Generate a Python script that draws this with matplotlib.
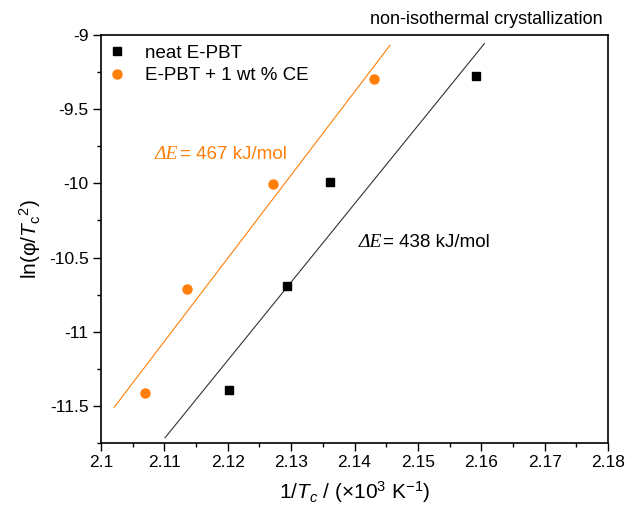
import matplotlib.pyplot as plt
import numpy as np

plt.rcParams['font.family'] = 'Liberation Sans'
plt.rcParams['mathtext.fontset'] = 'custom'
plt.rcParams['mathtext.rm'] = 'Liberation Sans'
plt.rcParams['mathtext.it'] = 'Liberation Sans:italic'

# 1/Tc (x10^3 1/K) and ln(phi/Tc^2) for both samples
x_neat = [2.1202, 2.1293, 2.1362, 2.1591]
y_neat = [-11.394, -10.692, -9.993, -9.276]
x_ce = [2.1069, 2.1136, 2.1271, 2.1431]
y_ce = [-11.41, -10.71, -10.002, -9.296]

# x span of each fitted line
fit_neat_range = [2.1101, 2.1605]
fit_ce_range = [2.1021, 2.1456]

dE_neat = 438
dE_ce = 467

xticks = [2.1, 2.11, 2.12, 2.13, 2.14, 2.15, 2.16, 2.17, 2.18]
yticks = [-11.5, -11, -10.5, -10, -9.5, -9]

orange = '#ff7f0a'

fig = plt.figure(figsize=(6.25, 5.12), dpi=100)
ax = fig.add_axes([0.1616, 0.1348, 0.8112, 0.7968])

ax.plot(x_neat, y_neat, 's', color='black', ms=6, label='neat E-PBT', zorder=3)
ax.plot(x_ce, y_ce, 'o', color=orange, ms=6.5, label='E-PBT + 1 wt % CE', zorder=3)

p = np.polyfit(x_neat, y_neat, 1)
xx = np.array(fit_neat_range)
ax.plot(xx, np.polyval(p, xx), color='#333333', lw=0.8)
p = np.polyfit(x_ce, y_ce, 1)
xx = np.array(fit_ce_range)
ax.plot(xx, np.polyval(p, xx), color=orange, lw=0.8)

ax.set_xlim(2.1, 2.18)
ax.set_ylim(-11.75, -9)
ax.set_xticks(xticks)
ax.set_xticklabels([f'{v:g}' for v in xticks])
ax.set_yticks(yticks)
ax.set_yticklabels([f'{v:g}' for v in yticks])
ax.set_xticks(np.arange(2.105, 2.18, 0.01), minor=True)
ax.set_yticks(np.arange(-11.75, -9, 0.5), minor=True)
ax.tick_params(which='major', direction='out', length=6, width=1, labelsize=12.5, pad=3)
ax.tick_params(which='minor', direction='out', length=3, width=1)
for s in ax.spines.values():
    s.set_linewidth(1.2)

ax.set_xlabel(r'1/$T_c$ / ($\times$10$^3$ K$^{-1}$)', fontsize=15, labelpad=6)
ax.set_ylabel('ln(φ/$T_\\mathrm{c}$$^2$)', fontsize=15, labelpad=4)

ax.legend(loc='upper left', bbox_to_anchor=(-0.01, 1.0), frameon=False, fontsize=13.5,
          handletextpad=0.9, borderaxespad=0.2, labelspacing=0.3, handlelength=1.2,
          borderpad=0.3)

# activation energy labels: italic serif symbol followed by sans text
t1 = ax.text(2.1085, -9.834, 'ΔE', family='Liberation Serif', style='italic',
             fontsize=14, color=orange, va='baseline')
ax.annotate(f'= {dE_ce} kJ/mol', xy=(1, 0), xycoords=t1, xytext=(1, 0),
             textcoords='offset points', fontsize=13.5, color=orange, va='bottom')
t2 = ax.text(2.1406, -10.43, 'ΔE', family='Liberation Serif', style='italic',
             fontsize=14, color='black', va='baseline')
ax.annotate(f'= {dE_neat} kJ/mol', xy=(1, 0), xycoords=t2, xytext=(1, 0),
             textcoords='offset points', fontsize=13.5, color='black', va='bottom')

fig.text(0.965, 0.962, 'non-isothermal crystallization', ha='right', va='center', fontsize=13)

fig.savefig('out.png', dpi=100)
